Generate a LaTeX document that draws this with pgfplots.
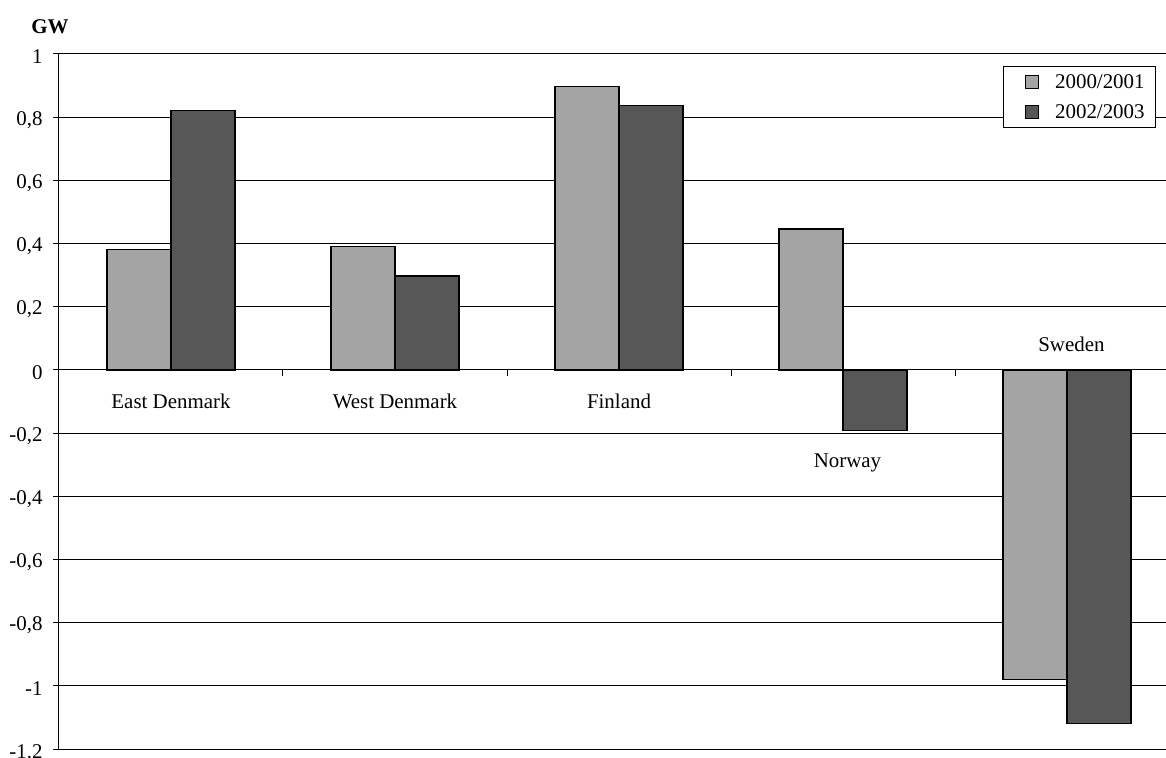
\documentclass[border=0pt]{standalone}
\usepackage{fontspec}
\setmainfont{Liberation Serif}
\usepackage{pgfplots}
\pgfplotsset{compat=1.18}
\definecolor{lightbar}{HTML}{A4A4A4}
\definecolor{darkbar}{HTML}{575757}
\newcommand{\fs}{\fontsize{10.5}{12.5}\selectfont}
\pgfplotsset{mylegend/.style={/pgfplots/legend image code/.code={%
    \path[draw=none, fill=none] (-10.6bp,-7.5bp) rectangle (15bp,7.5bp);
    \draw[##1, line width=0.5bp] (0bp,-3.25bp) rectangle (6.5bp,3.25bp);}}}
\begin{document}
\begin{tikzpicture}
\begin{axis}[
  name=ax,
  scale only axis,
  width=553.5bp, height=347.5bp,
  xmin=-0.5, xmax=4.442,
  ymin=-1.2, ymax=1,
  axis x line*=middle,
  axis y line*=left,
  axis line style={black, line width=0.5bp},
  xtick={0.5,1.5,2.5,3.5}, xticklabels={},
  ytick={-1.2,-1,-0.8,-0.6,-0.4,-0.2,0,0.2,0.4,0.6,0.8,1},
  yticklabels={-1.2,-1,{-0,8},{-0,6},{-0,4},{-0,2},0,{0,2},{0,4},{0,6},{0,8},1},
  hide obscured y ticks=false,
  hide obscured x ticks=false,
  tick align=outside,
  major tick length=3bp,
  tick style={black, line width=0.5bp},
  ymajorgrids,
  grid style={black, line width=0.5bp},
  yticklabel style={font=\fs, inner sep=0pt, xshift=-5bp, yshift=-1.3bp},
  ybar=0pt,
  bar width=0.2857,
  every axis plot post/.append style={mylegend},
  legend style={at={(0.9907,0.9832)}, anchor=north east, draw=black, line width=0.5bp,
    fill=white, inner sep=0.4bp, row sep=0pt, font=\fs,
    nodes={inner sep=0pt, text height=6.9bp, text depth=0pt}},
  legend cell align=left,
]
\addplot[fill=lightbar, draw=black, line width=0.6bp]
  coordinates {(0,0.38) (1,0.39) (2,0.897) (3,0.446) (4,-0.98)};
\addplot[fill=darkbar, draw=black, line width=0.6bp]
  coordinates {(0,0.82) (1,0.297) (2,0.836) (3,-0.193) (4,-1.12)};
\legend{2000/2001\kern4.9bp,2002/2003\kern4.9bp}
\node[font=\fs, anchor=base] at (axis cs:0,-0.123) {East Denmark};
\node[font=\fs, anchor=base] at (axis cs:1,-0.123) {West Denmark};
\node[font=\fs, anchor=base] at (axis cs:2,-0.123) {Finland};
\node[font=\fs, anchor=base] at (axis cs:3.02,-0.308) {Norway};
\node[font=\fs, anchor=base] at (axis cs:4.02,0.058) {Sweden};
\end{axis}
\node[font=\fs\bfseries, anchor=west, inner sep=0pt] at ([xshift=-14bp,yshift=13.8bp]ax.north west) {GW};
\pgfresetboundingbox
\path ([xshift=-29.5bp,yshift=-4.5bp]ax.south west) rectangle ([yshift=27bp]ax.north east);
\end{tikzpicture}
\end{document}
